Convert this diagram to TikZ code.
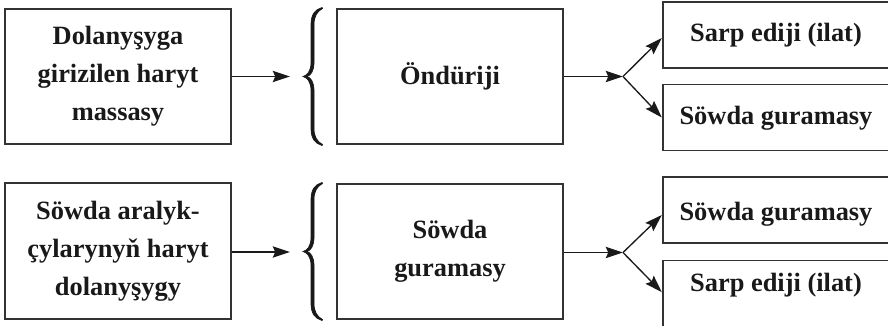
\documentclass[tikz,border=0pt]{standalone}
\usepackage{fontspec}
\setmainfont{Liberation Serif}
\usetikzlibrary{arrows.meta}
\tikzset{
  box/.style={draw=black!80, line width=1.3pt, minimum width=169.5pt, minimum height=101.5pt,
    inner sep=0pt, align=center, font=\bfseries\fontsize{19.8}{28.5}\selectfont, text=black!90},
  rbox/.style={draw=black!80, line width=1.3pt, minimum width=170pt, minimum height=49.5pt, inner sep=0pt},
  rtxt/.style={font=\bfseries\fontsize{19.8}{24}\selectfont, text=black!90, inner sep=0pt},
  arr/.style={draw=black!90, line width=1pt, -{Stealth[length=13pt, width=8.5pt, inset=2pt]}},
  brc/.style={fill=black!90, draw=black!90, line width=0.5pt}
}
\newcommand\mybrace{%
  \filldraw[brc] (19,-69) .. controls (12,-67) and (8,-62) .. (8,-52) -- (8,-14)
    .. controls (8,-5) and (4,-1) .. (0,0) .. controls (4,1) and (8,5) .. (8,14) -- (8,52)
    .. controls (8,62) and (12,67) .. (19,69) -- (19.5,68)
    .. controls (14,65) and (11,60) .. (11,52) -- (11,14)
    .. controls (11,6) and (8,1) .. (4,0) .. controls (8,-1) and (11,-6) .. (11,-14)
    -- (11,-52) .. controls (11,-60) and (14,-65) .. (19.5,-68) -- cycle;}
\begin{document}
\begin{tikzpicture}[x=0.75pt, y=-0.75pt]
\useasboundingbox (0,0) rectangle (888,325);
\clip (0,0) rectangle (888,325);
% top row
\node[box] (b1) at (118,76.5) {Dolanyşyga\\girizilen haryt\\massasy};
\coordinate (c1) at (290,76.5);
\begin{scope}[shift={(303,76.5)}] \mybrace \end{scope}
\node[box] (m1) at (450,76.5) {Öndüriji};
\coordinate (j1) at (623,76.5);
\node[rbox] (r1) at (776,35) {};
\node[rtxt] (t1) at (776,35) {Sarp ediji (ilat)};
\node[rbox] (r2) at (776,117.5) {};
\node[rtxt] (t2) at (776,118) {Söwda guramasy};
\draw[arr] (b1) -- (c1);
\draw[arr] (m1) -- (j1);
\draw[arr] (j1) -- ([yshift=-2.25pt]r1.west);
\draw[arr] (j1) -- (r2.west);
% bottom row
\node[box] (b2) at (118,251) {Söwda aralyk-\\çylarynyň haryt\\dolanyşygy};
\coordinate (c2) at (290,252);
\begin{scope}[shift={(303,251.5)}] \mybrace \end{scope}
\node[box] (m2) at (450,251.5) {Söwda\\guramasy};
\coordinate (j2) at (623,252.5);
\node[rbox] (r3) at (776,210) {};
\node[rtxt] (t3) at (776,214) {Söwda guramasy};
\node[rbox] (r4) at (776,293.5) {};
\node[rtxt] (t4) at (776,285) {Sarp ediji (ilat)};
\draw[arr] (b2.east |- c2) -- (c2);
\draw[arr] (m2.east |- j2) -- (j2);
\draw[arr] (j2) -- ([yshift=-3.75pt]r3.west);
\draw[arr] (j2) -- ([yshift=1pt]r4.west);
\end{tikzpicture}
\end{document}
